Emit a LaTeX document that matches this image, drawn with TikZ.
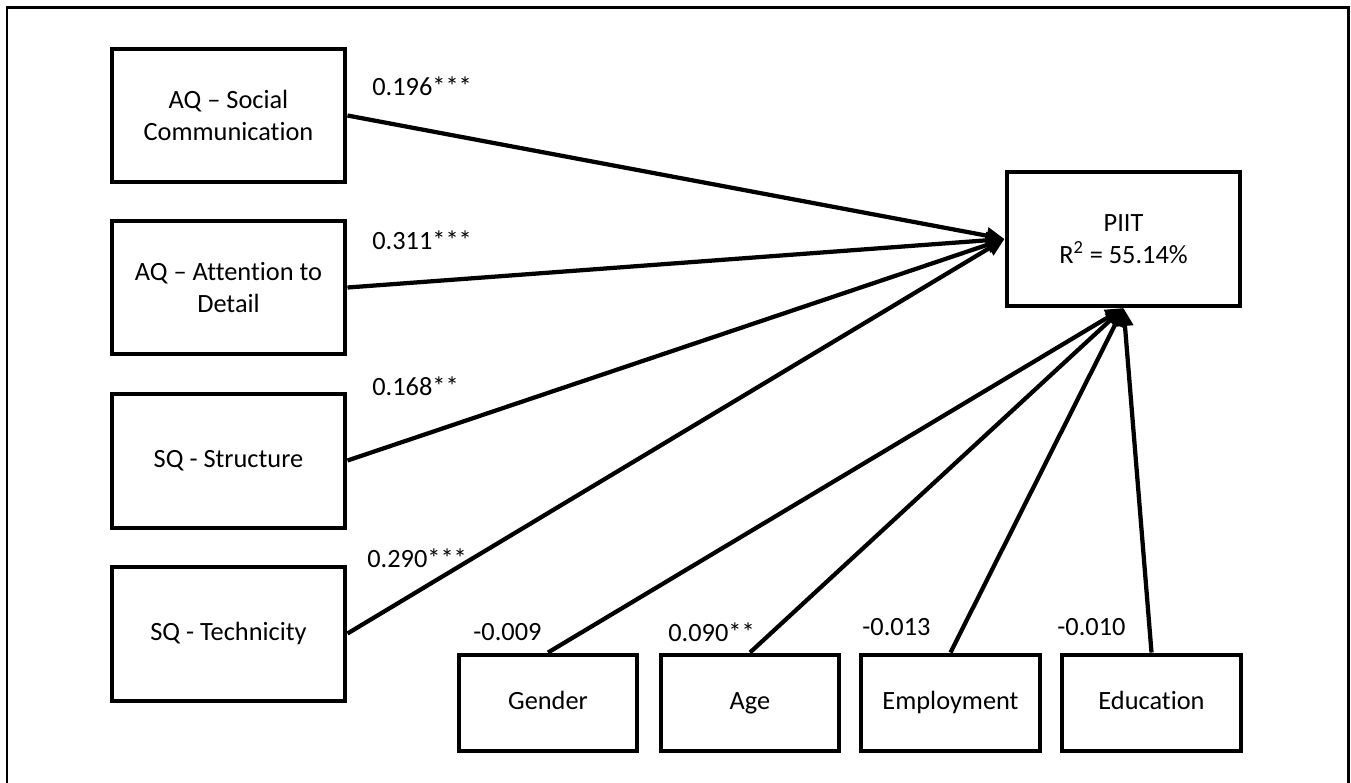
\documentclass[tikz,border=0pt]{standalone}
\usepackage{fontspec}
\setmainfont{Carlito}[Ligatures={TeX,NoCommon}]
\usetikzlibrary{arrows.meta}

\tikzset{
  varbox/.style={draw, line width=0.08cm, align=center,
    minimum width=4.68cm, minimum height=2.68cm, inner sep=2pt},
  ctrlbox/.style={varbox, minimum width=3.58cm, minimum height=1.92cm,
    text height=2.3ex, text depth=0.6ex},
  effect/.style={line width=0.085cm, -{Triangle[length=0.36cm,width=0.32cm]}},
  coef/.style={anchor=west, inner sep=0pt}
}

\begin{document}
\begin{tikzpicture}[x=0.02cm, y=-0.02cm,
    font=\fontsize{15pt}{18pt}\selectfont]
\useasboundingbox (0,0) rectangle (1351,782);
\draw[line width=0.06cm] (7,800) -- (7,7) -- (1348,7) -- (1348,800);

\node (sc) [varbox] at (228.5,115.5) {AQ \textendash{} Social\\Communication};
\node (ad) [varbox] at (228.5,287.5) {AQ \textendash{} Attention to\\Detail};
\node (st) [varbox] at (228.5,460.5) {SQ - Structure};
\node (te) [varbox] at (228.5,633.5) {SQ - Technicity};
\node (piit) [varbox] at (1123.5,239) {PIIT\\R\textsuperscript{2} = 55.14\%};

\node (gen) [ctrlbox] at (548,702.5) {Gender};
\node (age) [ctrlbox] at (750,702.5) {Age};
\node (emp) [ctrlbox] at (950.5,702.5) {Employment};
\node (edu) [ctrlbox] at (1151.5,702.5) {Education};

\draw[effect] (sc.east) -- (piit.west);
\draw[effect] (ad.east) -- (piit.west);
\draw[effect] (st.east) -- (piit.west);
\draw[effect] (te.east) -- (piit.west);
\draw[effect] (gen.north) -- (piit.south);
\draw[effect] (age.north) -- (piit.south);
\draw[effect] (emp.north) -- (piit.south);
\draw[effect] (edu.north) -- (piit.south);

\node (csc) [coef] at (372,86) {0.196***};
\node (cad) [coef] at (372,240) {0.311***};
\node (cst) [coef] at (372,386) {0.168**};
\node (cte) [coef] at (367,558) {0.290***};
\node (cgen) [coef] at (473,632) {-0.009};
\node (cage) [coef] at (668,632) {0.090**};
\node (cemp) [coef] at (862,627) {-0.013};
\node (cedu) [coef] at (1057,627) {-0.010};
\end{tikzpicture}
\end{document}
